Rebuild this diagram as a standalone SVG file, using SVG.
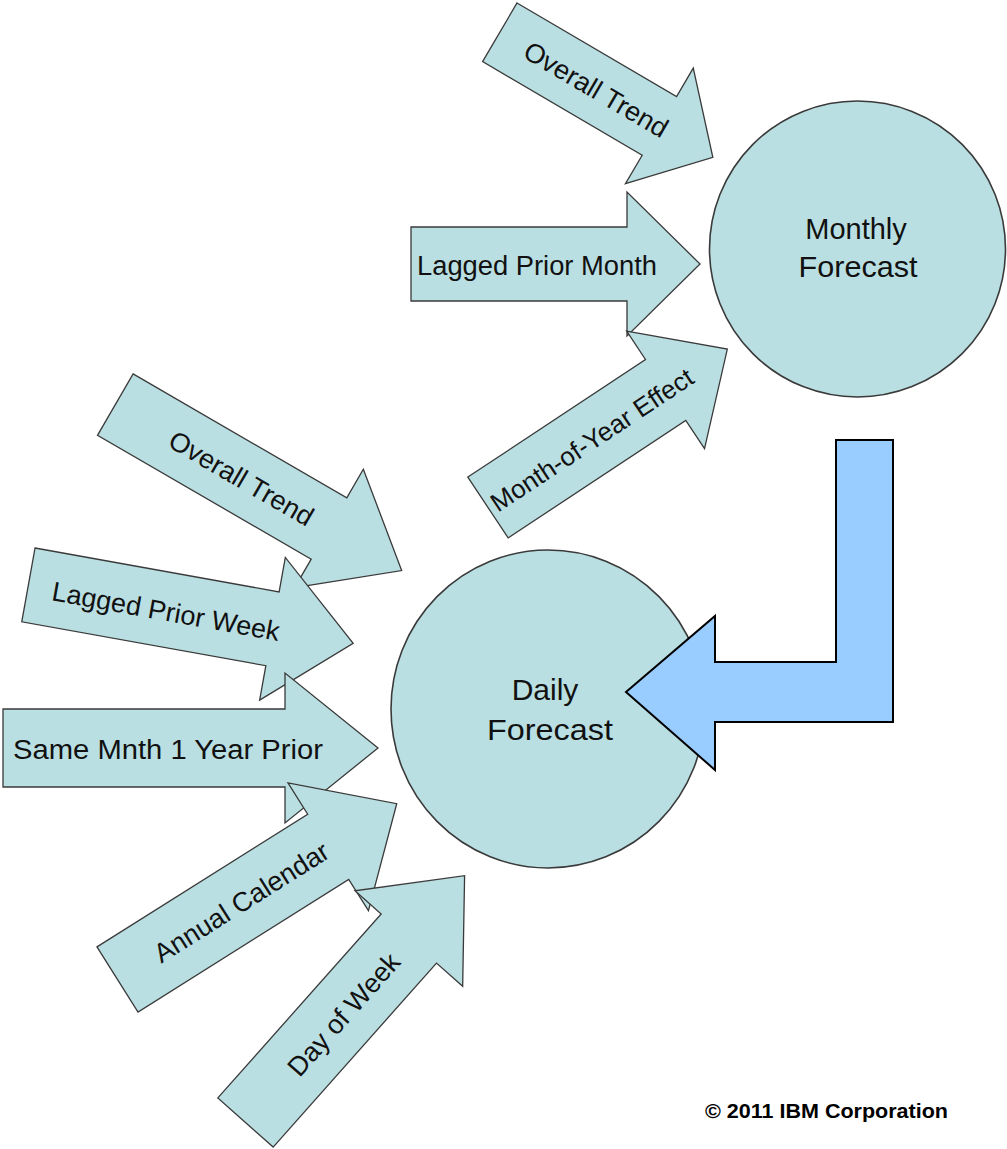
<svg xmlns="http://www.w3.org/2000/svg" width="1007" height="1149" viewBox="0 0 1007 1149">
  <style>
    .blk { fill: #BADFE2; stroke: #3a3a3a; stroke-width: 1.3; stroke-linejoin: miter; }
    .circ { fill: #BADFE2; stroke: #3a3a3a; stroke-width: 1.6; }
    .lbl { font-family: "Liberation Sans", Arial, sans-serif; font-size: 27px; fill: #111; }
    .big { font-family: "Liberation Sans", Arial, sans-serif; font-size: 29px; fill: #111; text-anchor: middle; }
    .mid { text-anchor: middle; }
    .copy { font-family: "Liberation Sans", Arial, sans-serif; font-size: 20px; font-weight: bold; fill: #000; }
    .flow { fill: #99CCFF; stroke: #000; stroke-width: 2; stroke-linejoin: miter; }
  </style>

  <rect x="0" y="0" width="1007" height="1149" fill="#ffffff"/>

  <!-- Monthly inputs -->
  <g id="monthly-overall-trend" transform="translate(499.8,32.3) rotate(30.4)">
    <path class="blk" d="M0,-34 L185,-34 L185,-67 L247,0 L185,67 L185,34 L0,34 Z"/>
    <text class="lbl mid" x="112" y="10">Overall Trend</text>
  </g>
  <g id="lagged-prior-month" transform="translate(411,264)">
    <path class="blk" d="M0,-37 L216,-37 L216,-72 L289,0 L216,72 L216,37 L0,37 Z"/>
    <text class="lbl" x="6" y="11" textLength="240" lengthAdjust="spacingAndGlyphs">Lagged Prior Month</text>
  </g>
  <g id="month-of-year-effect" transform="translate(488,507.5) rotate(-33.5)">
    <path class="blk" d="M0,-36.5 L213,-36.5 L213,-70.5 L287,0 L213,70.5 L213,36.5 L0,36.5 Z"/>
    <text class="lbl mid" x="124" y="10" style="font-size:26px">Month-of-Year Effect</text>
  </g>

  <!-- Daily inputs -->
  <g id="daily-overall-trend" transform="translate(115.3,404.6) rotate(30.1)">
    <path class="blk" d="M0,-35.5 L247,-35.5 L247,-68.5 L331,0 L247,68.5 L247,35.5 L0,35.5 Z"/>
    <text class="lbl mid" x="146" y="10">Overall Trend</text>
  </g>
  <g id="lagged-prior-week" transform="translate(28.4,584.9) rotate(10.2)">
    <path class="blk" d="M0,-37.5 L248,-37.5 L248,-72.5 L330,0 L248,72.5 L248,37.5 L0,37.5 Z"/>
    <text class="lbl mid" x="140" y="11">Lagged Prior Week</text>
  </g>
  <g id="same-month-1-year-prior" transform="translate(3,748)">
    <path class="blk" d="M0,-39 L282,-39 L282,-75 L375,0 L282,75 L282,39 L0,39 Z"/>
    <text class="lbl" x="10" y="11" textLength="310" lengthAdjust="spacingAndGlyphs">Same Mnth 1 Year Prior</text>
  </g>
  <g id="annual-calendar" transform="translate(117.5,979.5) rotate(-32.2)">
    <path class="blk" d="M0,-38.5 L249,-38.5 L249,-75.5 L330,0 L249,75.5 L249,38.5 L0,38.5 Z"/>
    <text class="lbl mid" x="146" y="10">Annual Calendar</text>
  </g>
  <g id="day-of-week" transform="translate(245.5,1122.5) rotate(-48.4)">
    <path class="blk" d="M0,-37 L246,-37 L246,-72 L330,0 L246,72 L246,37 L0,37 Z"/>
    <text class="lbl mid" x="146" y="11">Day of Week</text>
  </g>

  <!-- Forecast nodes -->
  <g id="monthly-forecast">
    <circle class="circ" cx="857.5" cy="249" r="148"/>
    <text class="big" x="856" y="239">Monthly</text>
    <text class="big" x="858" y="277" textLength="119" lengthAdjust="spacingAndGlyphs">Forecast</text>
  </g>
  <g id="daily-forecast">
    <ellipse class="circ" cx="548" cy="709" rx="157" ry="159"/>
    <text class="big" x="545" y="700" style="font-size:30px">Daily</text>
    <text class="big" x="550" y="740" style="font-size:30px" textLength="126" lengthAdjust="spacingAndGlyphs">Forecast</text>
  </g>

  <!-- Connector: Monthly -> Daily -->
  <g id="connectors">
    <path class="flow" d="M836,440 L893,440 L893,722 L715,722 L715,770 L626,692 L715,616 L715,662 L836,662 Z"/>
  </g>

  <text class="copy" x="705" y="1118" textLength="243" lengthAdjust="spacingAndGlyphs">© 2011 IBM Corporation</text>
</svg>
